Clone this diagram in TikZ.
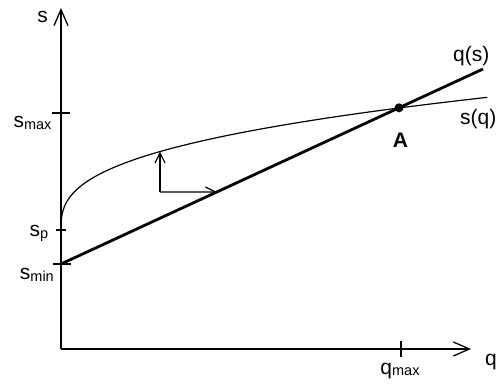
\documentclass[tikz,border=0pt]{standalone}
\usepackage{fontspec}
\setmainfont{Liberation Sans}
\usetikzlibrary{arrows.meta,calc}

\tikzset{
  axis/.style={line width=1.3pt, -{Straight Barb[length=16pt,width=14pt,line width=1.3pt]}},
  tick/.style={line width=1.2pt},
  lbl/.style={font=\fontsize{21}{25}\selectfont, inner sep=0pt},
  move/.style={line width=1.2pt, -{Straight Barb[length=10pt,width=10pt,line width=1.2pt]}},
}
\newcommand{\lowsub}[1]{\lower1.5pt\hbox{\fontsize{14.5}{16}\selectfont #1}}

\begin{document}
\begin{tikzpicture}[x=1pt,y=1pt]
  \useasboundingbox (-61,-36) rectangle (436,349);

  % axes
  \coordinate (O) at (0,0);
  \coordinate (stop) at (0,341);
  \coordinate (qend) at (410,0);
  \draw[axis] (O) -- (stop);
  \draw[axis] (O) -- (qend);
  \node[lbl, anchor=base east] (slbl) at (-13,326) {s};
  \node[lbl, anchor=base west] (qlbl) at (424,-16.6) {q};

  % ticks
  \coordinate (smax) at (0,236);
  \coordinate (sp) at (0,119);
  \coordinate (smin) at (0,85);
  \coordinate (qmax) at (340,0);
  \draw[tick] ([xshift=-9pt]smax) -- ([xshift=9pt]smax);
  \draw[tick] ([xshift=-5pt]sp) -- ([xshift=5pt]sp);
  \draw[tick] ([xshift=-8pt]smin) -- ([xshift=10pt]smin);
  \draw[tick] ([yshift=-8pt]qmax) -- ([yshift=8pt]qmax);
  \node[lbl, anchor=base east] (smaxlbl) at (-9.3,221) {s\lowsub{max}};
  \node[lbl, anchor=base east] (splbl) at (-12.7,112.3) {s\lowsub{p}};
  \node[lbl, anchor=base east] (sminlbl) at (-7,69) {s\lowsub{min}};
  \node[lbl, anchor=base] (qmaxlbl) at (339,-25) {q\lowsub{max}};

  % s(q) curve
  \draw[line width=1.2pt] (sp) -- plot[domain=0.05:3.358, samples=160, variable=\t]
    ({\t^5}, {119+15*\t^1.8});
  \node[lbl, anchor=base west] (sqlbl) at (399,224.4) {s(q)};

  % q(s) line
  \coordinate (qsend) at (422,280);
  \draw[line width=2.8pt] (smin) -- (qsend);
  \node[lbl, anchor=base west] (qslbl) at (392,287.4) {q(s)};

  % point A
  \coordinate (A) at ($(smin)!{338/422}!(qsend)$);
  \fill (A) circle (4.5pt);
  \node[lbl, font=\fontsize{21}{25}\selectfont\bfseries, anchor=base] (Albl) at (339.5,201) {A};

  % steps
  \coordinate (corner) at (99,157);
  \coordinate (oncurve) at ({99},{119+15*99^0.36});
  \coordinate (online) at ($(smin)!{72/195}!(qsend)$);
  \draw[move] (corner) -- (oncurve);
  \draw[move] (corner) -- (online);
\end{tikzpicture}
\end{document}
